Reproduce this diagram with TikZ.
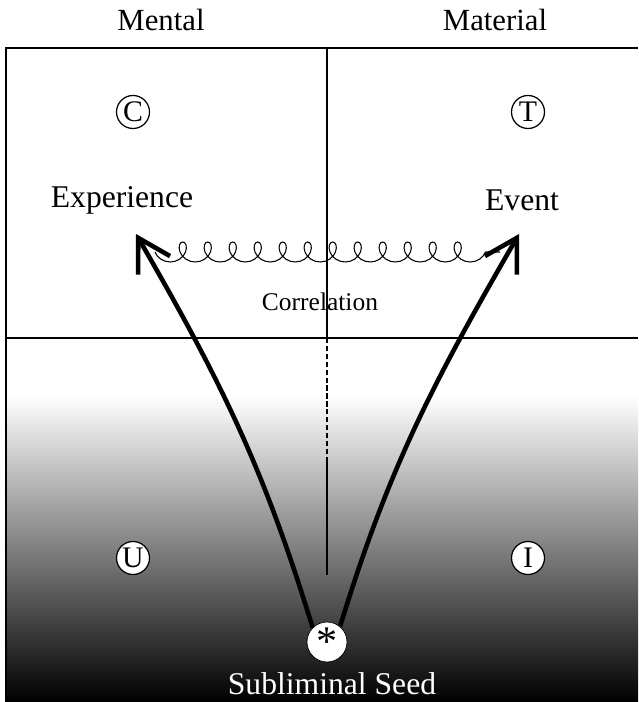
\documentclass[tikz,border=0pt]{standalone}
\usepackage{fontspec}
\setmainfont{Liberation Serif}
\usetikzlibrary{arrows.meta,decorations.pathmorphing}

\begin{document}
\begin{tikzpicture}%
  [x=0.02cm,y=-0.02cm,
   heading/.style=
    {font=\fontsize{17.5}{20}\selectfont,inner sep=0pt},
   term/.style=
    {font=\fontsize{18}{21}\selectfont,inner sep=0pt},
   quadrant/.style=
    {draw,circle,fill=white,line width=0.7pt,minimum size=0.66cm,inner sep=0pt,
     font=\fontsize{17}{19}\selectfont},
   divider/.style={line width=0.8pt},
   growth/.style={line width=2.6pt,-{Straight Barb[length=18pt,width=21pt]}},
   link/.style={line width=0.6pt,decorate,
     decoration={coil,mirror,aspect=0.9,segment length=0.5cm,amplitude=0.2cm}}
  ]
  \useasboundingbox (0,0) rectangle (638,702);
  % lower half fades into the dark
  \shade[top color=white,middle color=black!45,bottom color=black]
    (6,395) rectangle (638,702);
  \draw[divider] (6,702) -- (6,48) -- (638,48);
  \draw[divider] (6,338) -- (638,338);
  \draw[divider] (327,48) -- (327,338);
  \draw[divider,dashed,dash pattern=on 3pt off 1.5pt] (327,338) -- (327,460);
  \draw[divider] (327,460) -- (327,575);

  \node[heading] (mental) at (161,20) {Mental};
  \node[heading] (material) at (495,20) {Material};
  \node[quadrant] (c) at (133,112) {C};
  \node[quadrant] (t) at (528,112) {T};
  \node[quadrant] (u) at (133,558) {U};
  \node[quadrant] (i) at (528,558) {I};
  \node[term] (exp) at (122,200) {Experience};
  \node[term] (evt) at (522,200) {Event};
  \node[font=\fontsize{14.5}{17}\selectfont,inner sep=0pt] (corr) at (320,302) {Correlation};

  \node[draw,circle,fill=white,minimum size=0.8cm,inner sep=0pt,
    font=\fontsize{24}{24}\selectfont] (seed) at (327,642) {\raisebox{-0.36em}{*}};
  \node[term,text=white] (seedlbl) at (332,684) {Subliminal Seed};

  \coordinate (expTip) at (136,234);
  \coordinate (evtTip) at (519,234);
  \draw[growth] (seed.135) to[out=107,in=300] (expTip);
  \draw[growth] (seed.50) to[out=73,in=240] (evtTip);

  \coordinate (coilL) at (155,252);
  \coordinate (coilR) at (500,252);
  \draw[link] (coilL) -- (coilR);
\end{tikzpicture}
\end{document}
